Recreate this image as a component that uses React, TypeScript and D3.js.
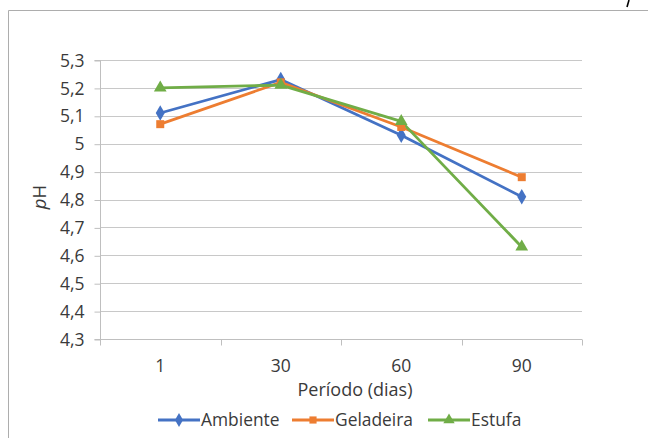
import React, { useEffect, useRef } from 'react';
import * as d3 from 'd3';

// periods (days) and pH readings per storage condition
const periods = ['1', '30', '60', '90'];
const ambiente = [5.11, 5.23, 5.03, 4.81];
const geladeira = [5.07, 5.22, 5.06, 4.88];
const estufa = [5.2, 5.21, 5.08, 4.63];
const yTicks = [4.3, 4.4, 4.5, 4.6, 4.7, 4.8, 4.9, 5.0, 5.1, 5.2, 5.3];

const seriesNames = ['Ambiente', 'Geladeira', 'Estufa'];
const seriesValues = [ambiente, geladeira, estufa];
const colors = ['#4472C4', '#ED7D31', '#70AD47'];
const symbols = [d3.symbolDiamond, d3.symbolSquare, d3.symbolTriangle];
const symbolSizes = [70, 64, 70];

const FONT = '"Open Sans", "Noto Sans", sans-serif';
const TEXT = '#3A3A3A';

const App = () => {
  const chartRef = useRef<SVGSVGElement>(null);

  useEffect(() => {
    const width = 648;
    const height = 438;
    const margin = { top: 60, right: 66, bottom: 99, left: 100 };

    const svg = d3.select(chartRef.current);
    svg.selectAll('*').remove();

    svg.append('rect').attr('width', width).attr('height', height).attr('fill', '#fff');

    // outer chart border (only left and top are visible)
    svg.append('path')
      .attr('d', `M8.5,${height}V10.5H${width}`)
      .attr('fill', 'none')
      .attr('stroke', '#ADADAD')
      .attr('stroke-width', 1);

    // cut-off glyph above the frame
    svg.append('line')
      .attr('x1', 627).attr('y1', 7).attr('x2', 629).attr('y2', 0)
      .attr('stroke', '#000').attr('stroke-width', 1.6);

    const xScale = d3.scaleBand()
      .domain(periods)
      .range([margin.left, width - margin.right]);

    const yScale = d3.scaleLinear()
      .domain([4.3, 5.3])
      .range([height - margin.bottom, margin.top]);

    // horizontal gridlines
    svg.append('g')
      .selectAll('line')
      .data(yTicks.slice(1))
      .join('line')
      .attr('x1', margin.left)
      .attr('x2', width - margin.right)
      .attr('y1', d => Math.round(yScale(d)) + 0.5)
      .attr('y2', d => Math.round(yScale(d)) + 0.5)
      .attr('stroke', '#C8C8C8')
      .attr('stroke-width', 1);

    // y axis
    const yAxis = svg.append('g')
      .attr('transform', `translate(${margin.left + 0.5}, 0.5)`)
      .call(d3.axisLeft(yScale)
        .tickValues(yTicks)
        .tickSize(6)
        .tickPadding(10)
        .tickFormat(d => String(d).replace('.', ',')));
    yAxis.select('.domain').attr('stroke', '#BFBFBF').attr('d', `M-6,${yScale(4.3)}H0V${yScale(5.3)}H-6`);
    yAxis.selectAll('.tick line').attr('stroke', '#BFBFBF');
    yAxis.selectAll('.tick text')
      .attr('font-family', FONT)
      .attr('font-size', 17.5)
      .attr('fill', TEXT);

    // x axis
    const xAxis = svg.append('g')
      .attr('transform', `translate(0, ${Math.round(yScale(4.3)) + 0.5})`);
    xAxis.append('line')
      .attr('x1', margin.left)
      .attr('x2', width - margin.right)
      .attr('stroke', '#BFBFBF');
    const edges = periods.map(p => xScale(p) as number).concat([width - margin.right]);
    xAxis.selectAll('line.tk')
      .data(edges)
      .join('line')
      .attr('class', 'tk')
      .attr('x1', d => Math.round(d) + 0.5)
      .attr('x2', d => Math.round(d) + 0.5)
      .attr('y1', 0)
      .attr('y2', 6)
      .attr('stroke', '#BFBFBF');
    xAxis.selectAll('text')
      .data(periods)
      .join('text')
      .attr('x', d => (xScale(d) as number) + xScale.bandwidth() / 2)
      .attr('y', 32)
      .attr('text-anchor', 'middle')
      .attr('font-family', FONT)
      .attr('font-size', 17.5)
      .attr('fill', TEXT)
      .text(d => d);

    // axis titles
    svg.append('text')
      .attr('x', 355)
      .attr('y', 396)
      .attr('text-anchor', 'middle')
      .attr('font-family', FONT)
      .attr('font-size', 18)
      .attr('fill', TEXT)
      .text('Período (dias)');

    const yTitle = svg.append('text')
      .attr('transform', `translate(46, 197) rotate(-90)`)
      .attr('text-anchor', 'middle')
      .attr('font-family', FONT)
      .attr('font-size', 18.5)
      .attr('fill', TEXT);
    yTitle.append('tspan').attr('font-style', 'italic').text('p');
    yTitle.append('tspan').text('H');

    // series lines and markers
    const line = d3.line<number>()
      .x((_, i) => (xScale(periods[i]) as number) + xScale.bandwidth() / 2)
      .y(d => yScale(d));

    seriesValues.forEach((vals, s) => {
      svg.append('path')
        .datum(vals)
        .attr('d', line)
        .attr('fill', 'none')
        .attr('stroke', colors[s])
        .attr('stroke-width', 2.8)
        .attr('stroke-linejoin', 'round');
    });
    seriesValues.forEach((vals, s) => {
      svg.append('g')
        .selectAll('path')
        .data(vals)
        .join('path')
        .attr('transform', (d, i) =>
          `translate(${(xScale(periods[i]) as number) + xScale.bandwidth() / 2}, ${yScale(d)})`)
        .attr('d', d3.symbol(symbols[s], symbolSizes[s]))
        .attr('fill', colors[s]);
    });

    // legend
    const legendX = [158, 292, 428];
    const legend = svg.append('g').attr('transform', 'translate(0, 420)');
    seriesNames.forEach((name, s) => {
      const g = legend.append('g').attr('transform', `translate(${legendX[s]}, 0)`);
      g.append('line')
        .attr('x1', 0).attr('x2', 42)
        .attr('stroke', colors[s])
        .attr('stroke-width', 2.8);
      g.append('path')
        .attr('transform', 'translate(21, 0)')
        .attr('d', d3.symbol(symbols[s], symbolSizes[s] * 0.8))
        .attr('fill', colors[s]);
      g.append('text')
        .attr('x', 43)
        .attr('dy', '0.35em')
        .attr('font-family', FONT)
        .attr('font-size', 17.4)
        .attr('fill', TEXT)
        .text(name);
    });
  }, []);

  return (
    <div style={{ position: 'fixed', left: 0, top: 0 }}>
      <svg ref={chartRef} width={648} height={438} style={{ display: 'block' }} />
    </div>
  );
};

export default App;
